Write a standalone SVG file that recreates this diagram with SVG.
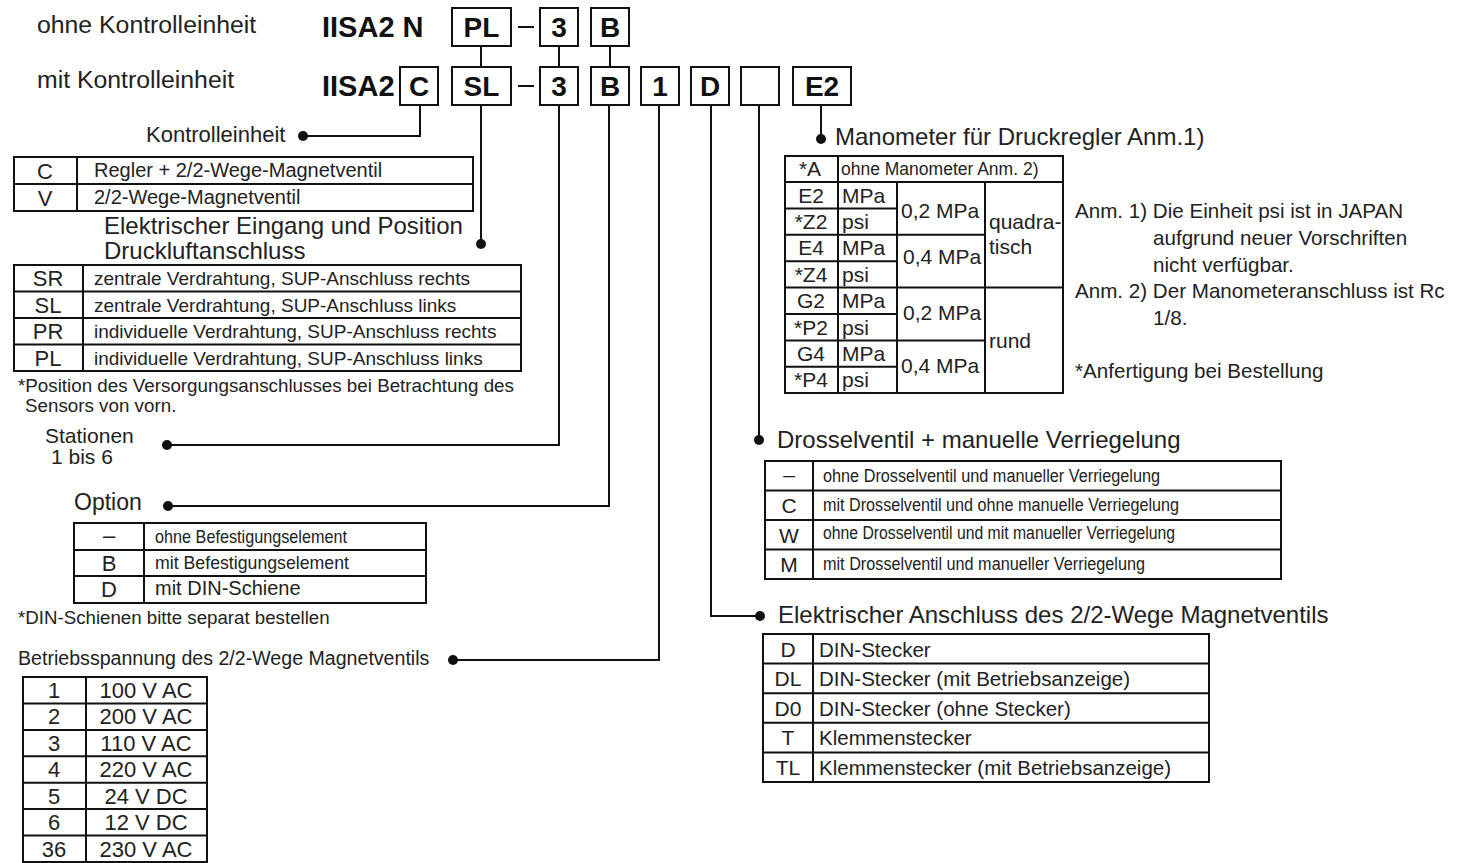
<svg xmlns="http://www.w3.org/2000/svg" width="1481" height="863" viewBox="0 0 1481 863">
<style>
text{font-family:"Liberation Sans",Arial,Helvetica,sans-serif;fill:#222}
.b{font-weight:bold;fill:#111}
.h{font-size:24px}
.c{text-anchor:middle}
.box{fill:#fff;stroke:#111;stroke-width:2}
.ln{fill:none;stroke:#111;stroke-width:2}
.tb{fill:none;stroke:#111;stroke-width:2}
.dot{fill:#111}
</style>
<rect width="1481" height="863" fill="#fff"/>

<g id="header">
<text x="37" y="33" font-size="24.8">ohne Kontrolleinheit</text>
<text x="37" y="88" font-size="24.8">mit Kontrolleinheit</text>
<text x="322" y="37" class="b" font-size="29">IISA2 N</text>
<text x="322" y="96" class="b" font-size="29">IISA2</text>
</g>

<g id="code-boxes" font-size="28">
<rect class="box" x="452" y="8" width="59" height="38"/><text class="b c" x="481.5" y="37" font-size="28">PL</text>
<rect class="box" x="540" y="8" width="38" height="38"/><text class="b c" x="559" y="37" font-size="28">3</text>
<rect class="box" x="591" y="8" width="38" height="38"/><text class="b c" x="610" y="37" font-size="28">B</text>
<rect class="box" x="400" y="67" width="38" height="38"/><text class="b c" x="419" y="96" font-size="28">C</text>
<rect class="box" x="452" y="67" width="59" height="38"/><text class="b c" x="481.5" y="96" font-size="28">SL</text>
<rect class="box" x="540" y="67" width="38" height="38"/><text class="b c" x="559" y="96" font-size="28">3</text>
<rect class="box" x="591" y="67" width="38" height="38"/><text class="b c" x="610" y="96" font-size="28">B</text>
<rect class="box" x="641" y="67" width="38" height="38"/><text class="b c" x="660" y="96" font-size="28">1</text>
<rect class="box" x="691" y="67" width="38" height="38"/><text class="b c" x="710" y="96" font-size="28">D</text>
<rect class="box" x="741" y="67" width="38" height="38"/>
<rect class="box" x="793" y="67" width="58" height="38"/><text class="b c" x="822" y="96" font-size="28">E2</text>
<line class="ln" x1="518" y1="27" x2="534" y2="27"/>
<line class="ln" x1="518" y1="86" x2="534" y2="86"/>
</g>

<g id="connectors">
<path class="ln" d="M481,46V67M559,46V67M610,46V67"/>
<path class="ln" d="M420,105V136H303"/><circle class="dot" cx="303" cy="136" r="5"/>
<path class="ln" d="M481,105V244"/><circle class="dot" cx="481" cy="244" r="5"/>
<path class="ln" d="M559,105V445H167"/><circle class="dot" cx="167" cy="445" r="5"/>
<path class="ln" d="M609,105V506H168"/><circle class="dot" cx="168" cy="506" r="5"/>
<path class="ln" d="M659,105V660H453"/><circle class="dot" cx="453" cy="660" r="5"/>
<path class="ln" d="M711,105V616H760"/><circle class="dot" cx="760" cy="616" r="5"/>
<path class="ln" d="M759,105V440"/><circle class="dot" cx="759" cy="440" r="5"/>
<path class="ln" d="M821,105V139"/><circle class="dot" cx="821" cy="139" r="5"/>
</g>

<g id="kontrolleinheit">
<text x="146" y="142" font-size="22">Kontrolleinheit</text>
<rect class="tb" x="14" y="157" width="459" height="54"/>
<path class="tb" d="M14,184H473M77,157V211"/>
<text class="c" x="45" y="179" font-size="22">C</text>
<text class="c" x="45" y="206" font-size="22">V</text>
<text x="94" y="177" font-size="20">Regler + 2/2-Wege-Magnetventil</text>
<text x="94" y="204" font-size="20">2/2-Wege-Magnetventil</text>
</g>

<g id="eingang">
<text x="104" y="234" class="h">Elektrischer Eingang und Position</text>
<text x="104" y="259" class="h">Druckluftanschluss</text>
<rect class="tb" x="14" y="265" width="507" height="106"/>
<path class="tb" d="M14,291.5H521M14,318H521M14,344.5H521M83,265V371"/>
<text class="c" x="48" y="286" font-size="22">SR</text>
<text class="c" x="48" y="313" font-size="22">SL</text>
<text class="c" x="48" y="339" font-size="22">PR</text>
<text class="c" x="48" y="366" font-size="22">PL</text>
<text x="94" y="285" font-size="19">zentrale Verdrahtung, SUP-Anschluss rechts</text>
<text x="94" y="312" font-size="19">zentrale Verdrahtung, SUP-Anschluss links</text>
<text x="94" y="338" font-size="19">individuelle Verdrahtung, SUP-Anschluss rechts</text>
<text x="94" y="365" font-size="19">individuelle Verdrahtung, SUP-Anschluss links</text>
<text x="18" y="392" font-size="18.8">*Position des Versorgungsanschlusses bei Betrachtung des</text>
<text x="25" y="412" font-size="18.8">Sensors von vorn.</text>
</g>

<g id="stationen">
<text x="45" y="443" font-size="21">Stationen</text>
<text x="51" y="464" font-size="21">1 bis 6</text>
</g>

<g id="option">
<text x="74" y="510" font-size="23">Option</text>
<rect class="tb" x="74" y="523" width="352" height="80"/>
<path class="tb" d="M74,550H426M74,576H426M144,523V603"/>
<text class="c" x="109" y="543" font-size="22">–</text>
<text class="c" x="109" y="571" font-size="22">B</text>
<text class="c" x="109" y="597" font-size="22">D</text>
<text x="155" y="543" font-size="19" textLength="192" lengthAdjust="spacingAndGlyphs">ohne Befestigungselement</text>
<text x="155" y="569" font-size="19" textLength="194" lengthAdjust="spacingAndGlyphs">mit Befestigungselement</text>
<text x="155" y="595" font-size="20">mit DIN-Schiene</text>
<text x="18" y="624" font-size="18.7">*DIN-Schienen bitte separat bestellen</text>
</g>

<g id="spannung">
<text x="18" y="665" font-size="19.6">Betriebsspannung des 2/2-Wege Magnetventils</text>
<rect class="tb" x="23" y="677" width="184" height="185"/>
<path class="tb" d="M23,703.4H207M23,729.9H207M23,756.3H207M23,782.7H207M23,809.1H207M23,835.6H207M86,677V862"/>
<g font-size="22">
<text class="c" x="54" y="698">1</text><text class="c" x="146" y="698">100 V AC</text>
<text class="c" x="54" y="724">2</text><text class="c" x="146" y="724">200 V AC</text>
<text class="c" x="54" y="751">3</text><text class="c" x="146" y="751">110 V AC</text>
<text class="c" x="54" y="777">4</text><text class="c" x="146" y="777">220 V AC</text>
<text class="c" x="54" y="804">5</text><text class="c" x="146" y="804">24 V DC</text>
<text class="c" x="54" y="830">6</text><text class="c" x="146" y="830">12 V DC</text>
<text class="c" x="54" y="857">36</text><text class="c" x="146" y="857">230 V AC</text>
</g>
</g>

<g id="manometer">
<text x="835" y="145" class="h">Manometer für Druckregler Anm.1)</text>
<rect class="tb" x="785" y="156" width="278" height="237"/>
<path class="tb" d="M785,182H1063M838,156V393M897,182V393M985,182V393M785,208.4H897M785,234.8H985M785,261.2H897M785,287.6H1063M785,314H897M785,340.4H985M785,366.8H897"/>
<text class="c" x="810" y="176" font-size="21">*A</text>
<text x="841" y="175" font-size="17.5">ohne Manometer Anm. 2)</text>
<g font-size="21">
<text class="c" x="811" y="203">E2</text><text x="842" y="203">MPa</text>
<text class="c" x="811" y="229">*Z2</text><text x="842" y="229">psi</text>
<text class="c" x="811" y="255">E4</text><text x="842" y="255">MPa</text>
<text class="c" x="811" y="282">*Z4</text><text x="842" y="282">psi</text>
<text class="c" x="811" y="308">G2</text><text x="842" y="308">MPa</text>
<text class="c" x="811" y="335">*P2</text><text x="842" y="335">psi</text>
<text class="c" x="811" y="361">G4</text><text x="842" y="361">MPa</text>
<text class="c" x="811" y="387">*P4</text><text x="842" y="387">psi</text>
<text x="901" y="218">0,2 MPa</text>
<text x="903" y="264">0,4 MPa</text>
<text x="903" y="320">0,2 MPa</text>
<text x="901" y="373">0,4 MPa</text>
<text x="989" y="229">quadra-</text>
<text x="989" y="254">tisch</text>
<text x="989" y="348">rund</text>
</g>
</g>

<g id="anmerkungen">
<text x="1075" y="218" font-size="20.6">Anm. 1) Die Einheit psi ist in JAPAN</text>
<text x="1153" y="245" font-size="20.6">aufgrund neuer Vorschriften</text>
<text x="1153" y="272" font-size="20.6">nicht verfügbar.</text>
<text x="1075" y="298" font-size="20.6">Anm. 2) Der Manometeranschluss ist Rc</text>
<text x="1153" y="325" font-size="20.6">1/8.</text>
<text x="1075" y="378" font-size="20.6">*Anfertigung bei Bestellung</text>
</g>

<g id="drossel">
<text x="777" y="448" class="h">Drosselventil + manuelle Verriegelung</text>
<rect class="tb" x="765" y="461" width="516" height="118"/>
<path class="tb" d="M765,490.5H1281M765,520H1281M765,549.5H1281M813,461V579"/>
<text class="c" x="789" y="482" font-size="21">–</text>
<text class="c" x="789" y="513" font-size="21">C</text>
<text class="c" x="789" y="543" font-size="21">W</text>
<text class="c" x="789" y="572" font-size="21">M</text>
<text x="823" y="482" font-size="18" textLength="337" lengthAdjust="spacingAndGlyphs">ohne Drosselventil und manueller Verriegelung</text>
<text x="823" y="511" font-size="18" textLength="356" lengthAdjust="spacingAndGlyphs">mit Drosselventil und ohne manuelle Verriegelung</text>
<text x="823" y="539" font-size="18" textLength="352" lengthAdjust="spacingAndGlyphs">ohne Drosselventil und mit manueller Verriegelung</text>
<text x="823" y="570" font-size="18" textLength="322" lengthAdjust="spacingAndGlyphs">mit Drosselventil und manueller Verriegelung</text>
</g>

<g id="anschluss">
<text x="778" y="623" class="h">Elektrischer Anschluss des 2/2-Wege Magnetventils</text>
<rect class="tb" x="763" y="634" width="446" height="148"/>
<path class="tb" d="M763,663.6H1209M763,693.2H1209M763,722.8H1209M763,752.4H1209M813,634V782"/>
<g font-size="21">
<text class="c" x="788" y="657">D</text>
<text class="c" x="788" y="686">DL</text>
<text class="c" x="788" y="716">D0</text>
<text class="c" x="788" y="745">T</text>
<text class="c" x="788" y="775">TL</text>
</g>
<text x="819" y="657" font-size="20.5">DIN-Stecker</text>
<text x="819" y="686" font-size="20.5">DIN-Stecker (mit Betriebsanzeige)</text>
<text x="819" y="716" font-size="20.5">DIN-Stecker (ohne Stecker)</text>
<text x="819" y="745" font-size="20.5">Klemmenstecker</text>
<text x="819" y="775" font-size="20.5">Klemmenstecker (mit Betriebsanzeige)</text>
</g>
</svg>
